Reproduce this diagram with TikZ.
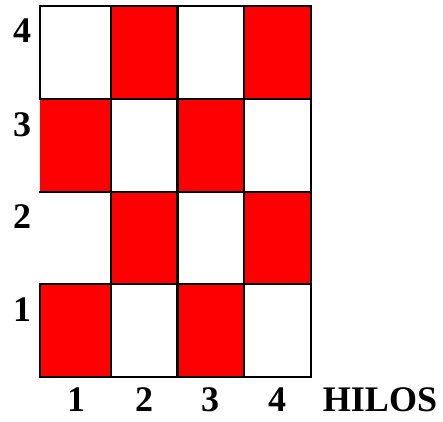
\documentclass[tikz,border=0pt]{standalone}
\usepackage{fontspec}
\setmainfont{Liberation Serif}
\definecolor{cellred}{RGB}{255,0,0}
\begin{document}
\begin{tikzpicture}[x=1pt,y=-1pt,
  lbl/.style={font=\fontsize{36}{40}\selectfont\bfseries, inner sep=0pt, anchor=base},
  redcell/.style={fill=cellred},
  gridline/.style={line width=2.7pt, line cap=rect}]
\useasboundingbox (0,0) rectangle (443,421);
% red cells
\fill[redcell] (111,6) rectangle (177.5,99);
\fill[redcell] (244,6) rectangle (311,99);
\fill[redcell] (39.5,99) rectangle (111,191);
\fill[redcell] (177.5,99) rectangle (244,192);
\fill[redcell] (111,192) rectangle (177.5,284);
\fill[redcell] (244,192) rectangle (311,284);
\fill[redcell] (40,284) rectangle (111,377);
\fill[redcell] (177.5,284) rectangle (244,377);
% grid lines
\foreach \y in {6,99,192,284,377} \draw[gridline] (40,\y) -- (311,\y);
\foreach \x in {111,177.5,244,311} \draw[gridline] (\x,6) -- (\x,377);
\draw[gridline] (40,6) -- (40,99);
\draw[gridline] (40,284) -- (40,377);
% row labels
\node[lbl] (r4) at (22,42) {4};
\node[lbl] (r3) at (22,136) {3};
\node[lbl] (r2) at (22,228) {2};
\node[lbl] (r1) at (22,321) {1};
% column labels
\node[lbl] (c1) at (76,411.5) {1};
\node[lbl] (c2) at (144,411.5) {2};
\node[lbl] (c3) at (210,411.5) {3};
\node[lbl] (c4) at (277,411.5) {4};
\node[lbl] (hilos) at (380,411.5) {HILOS};
\end{tikzpicture}
\end{document}
